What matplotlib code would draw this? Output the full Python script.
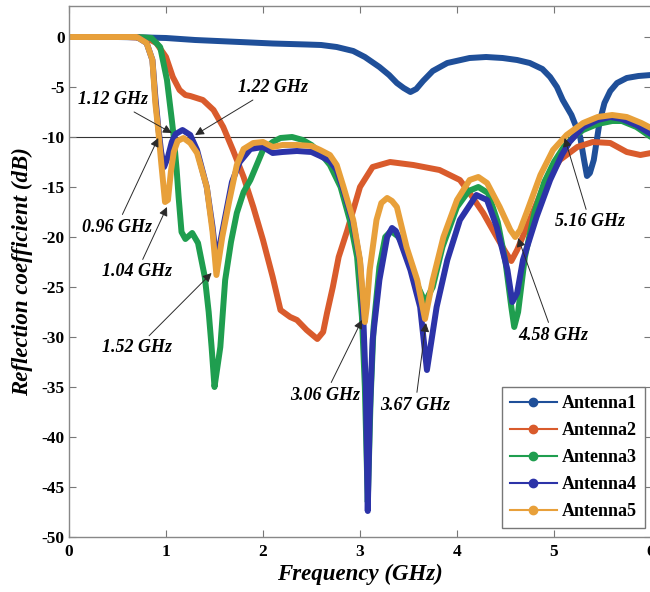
import matplotlib
matplotlib.use("Agg")
import matplotlib.pyplot as plt
from matplotlib.lines import Line2D

plt.rcParams['font.family'] = ['Liberation Serif', 'DejaVu Serif']
plt.rcParams['font.weight'] = 'bold'
plt.rcParams['axes.unicode_minus'] = False

labels = ["Antenna1", "Antenna2", "Antenna3", "Antenna4", "Antenna5"]
colors = ["#1f4f99", "#d95b2c", "#1f9e4f", "#2c33a8", "#e8a03a"]

f1 = [0, 0.5, 0.8, 1.0, 1.3, 1.76, 2.1, 2.45, 2.6, 2.76, 2.93, 3.05, 3.2, 3.3, 3.38, 3.45,
      3.52, 3.58, 3.65, 3.75, 3.9, 4.13, 4.3, 4.47, 4.62, 4.75, 4.88, 4.96, 5.03, 5.09, 5.18,
      5.27, 5.31, 5.34, 5.37, 5.41, 5.47, 5.52, 5.58, 5.65, 5.75, 5.87, 6.0]
s1 = [0, 0, -0.05, -0.1, -0.3, -0.5, -0.65, -0.75, -0.8, -1.0, -1.4, -2.0, -3.0, -3.8, -4.6, -5.1,
      -5.5, -5.2, -4.4, -3.4, -2.6, -2.1, -2.0, -2.1, -2.3, -2.6, -3.2, -4.0, -5.0, -6.3, -7.8,
      -10.0, -12.3, -13.9, -13.6, -12.3, -8.5, -6.6, -5.4, -4.6, -4.1, -3.9, -3.8]

f2 = [0, 0.6, 0.8, 0.9, 1.0, 1.07, 1.14, 1.2, 1.25, 1.38, 1.49, 1.59, 1.69, 1.8, 1.9, 2.0,
      2.1, 2.18, 2.28, 2.35, 2.45, 2.56, 2.62, 2.66, 2.72, 2.78, 2.87, 3.0, 3.13, 3.31, 3.55,
      3.82, 4.03, 4.13, 4.27, 4.41, 4.5, 4.56, 4.62, 4.72, 4.89, 5.06, 5.24, 5.4, 5.58, 5.75,
      5.89, 6.0]
s2 = [0, 0, -0.1, -0.6, -2.0, -4.0, -5.3, -5.8, -5.9, -6.3, -7.3, -9.0, -11.3, -14.0, -17.0, -20.3,
      -24.0, -27.3, -28.0, -28.3, -29.3, -30.2, -29.5, -27.6, -25.0, -22.0, -19.3, -15.0, -13.0, -12.5, -12.8,
      -13.3, -14.3, -15.6, -17.6, -20.0, -21.5, -22.4, -21.3, -19.0, -15.0, -12.3, -11.0, -10.5, -10.6, -11.5,
      -11.8, -11.6]

f3 = [0, 0.7, 0.85, 0.94, 1.01, 1.06, 1.08, 1.11, 1.13, 1.16, 1.2, 1.27, 1.33, 1.4, 1.44, 1.47,
      1.5, 1.53, 1.56, 1.61, 1.67, 1.73, 1.8, 1.87, 2.0, 2.1, 2.18, 2.3, 2.41, 2.5, 2.59, 2.69,
      2.8, 2.9, 2.97, 3.02, 3.05, 3.08, 3.11, 3.14, 3.2, 3.26, 3.32, 3.4, 3.5, 3.6, 3.67, 3.75,
      3.85, 4.0, 4.12, 4.22, 4.32, 4.42, 4.5, 4.56, 4.59, 4.63, 4.7, 4.8, 4.9, 5.0, 5.1, 5.2,
      5.3, 5.45, 5.6, 5.7, 5.85, 6.0]
s3 = [0, 0, -0.1, -1.0, -4.3, -8.3, -10.0, -13.3, -16.0, -19.5, -20.2, -19.6, -20.6, -24.0, -27.5, -31.0,
      -35.0, -33.0, -31.0, -24.3, -20.5, -17.6, -15.5, -14.3, -11.3, -10.5, -10.1, -10.0, -10.3, -10.8, -11.6, -12.8,
      -15.0, -18.5, -22.0, -28.0, -35.0, -46.5, -36.0, -29.0, -23.0, -20.0, -19.4, -20.0, -22.0, -25.0, -26.5, -25.0,
      -21.0, -17.0, -15.4, -15.0, -15.6, -18.5, -22.5, -27.0, -29.0, -27.5, -22.0, -17.5, -14.5, -12.5, -11.0, -10.0,
      -9.3, -8.7, -8.4, -8.4, -9.0, -10.0]

f4 = [0, 0.7, 0.8, 0.86, 0.89, 0.92, 0.95, 0.98, 1.02, 1.06, 1.1, 1.17, 1.25, 1.32, 1.42, 1.48,
      1.52, 1.56, 1.62, 1.68, 1.76, 1.87, 2.0, 2.1, 2.2, 2.35, 2.5, 2.59, 2.69, 2.76, 2.83, 2.93,
      3.0, 3.03, 3.06, 3.08, 3.1, 3.13, 3.2, 3.28, 3.33, 3.37, 3.41, 3.52, 3.62, 3.69, 3.79, 3.9,
      4.03, 4.2, 4.31, 4.41, 4.52, 4.57, 4.62, 4.68, 4.82, 4.96, 5.08, 5.16, 5.3, 5.45, 5.58, 5.7,
      5.85, 6.0]
s4 = [0, 0, -0.6, -2.3, -6.0, -9.0, -11.5, -13.0, -12.0, -10.5, -9.7, -9.3, -9.8, -11.3, -15.0, -19.0,
      -22.5, -20.5, -17.5, -14.5, -12.5, -11.2, -11.0, -11.6, -11.5, -11.4, -11.5, -11.9, -12.4, -13.3, -15.3, -18.6,
      -22.5, -27.0, -35.0, -47.4, -38.0, -30.3, -24.3, -20.0, -19.1, -19.4, -20.3, -23.3, -27.0, -33.3, -27.0, -22.3,
      -18.3, -15.8, -16.3, -19.0, -23.3, -26.5, -25.6, -22.3, -18.0, -14.3, -11.8, -10.5, -9.0, -8.3, -8.0, -8.2,
      -8.8, -9.7]

f5 = [0, 0.7, 0.8, 0.86, 0.89, 0.92, 0.95, 0.99, 1.02, 1.05, 1.08, 1.12, 1.18, 1.25, 1.32, 1.42,
      1.48, 1.52, 1.58, 1.65, 1.73, 1.8, 1.9, 2.0, 2.1, 2.2, 2.35, 2.5, 2.59, 2.69, 2.76, 2.83,
      2.93, 3.0, 3.03, 3.05, 3.07, 3.1, 3.17, 3.22, 3.28, 3.33, 3.38, 3.48, 3.59, 3.67, 3.75, 3.86,
      4.0, 4.13, 4.22, 4.31, 4.44, 4.55, 4.6, 4.65, 4.72, 4.86, 4.99, 5.13, 5.3, 5.45, 5.6, 5.75,
      5.9, 6.0]
s5 = [0, 0, -0.6, -2.3, -6.6, -9.3, -12.5, -16.5, -16.3, -13.5, -11.5, -10.4, -10.1, -10.6, -11.6, -15.0,
      -19.5, -23.8, -20.0, -16.5, -12.8, -11.2, -10.6, -10.5, -11.0, -10.8, -10.8, -10.9, -11.3, -11.8, -12.8, -15.0,
      -18.3, -22.3, -26.0, -28.5, -27.0, -23.3, -18.3, -16.6, -16.1, -16.4, -17.0, -21.0, -24.3, -28.2, -24.3, -20.0,
      -16.3, -14.3, -14.0, -14.6, -17.0, -19.3, -20.0, -19.3, -17.5, -13.8, -11.3, -9.8, -8.6, -8.0, -7.8, -8.0,
      -8.6, -9.1]

freqs = [f1, f2, f3, f4, f5]
s11s = [s1, s2, s3, s4, s5]

xticks = [0, 1, 2, 3, 4, 5, 6]
yticks = [-50, -45, -40, -35, -30, -25, -20, -15, -10, -5, 0]

# annotation: text, arrow tip (x, y), text centre (x, y)
notes = [
    ("1.12 GHz", (1.06, -9.6), (0.45, -6.3)),
    ("1.22 GHz", (1.30, -9.8), (2.10, -5.1)),
    ("0.96 GHz", (0.92, -10.1), (0.49, -19.0)),
    ("1.04 GHz", (1.01, -17.0), (0.70, -23.5)),
    ("1.52 GHz", (1.47, -23.6), (0.70, -31.1)),
    ("3.06 GHz", (3.02, -28.3), (2.64, -35.8)),
    ("3.67 GHz", (3.68, -28.6), (3.57, -36.8)),
    ("4.58 GHz", (4.63, -20.1), (4.99, -29.8)),
    ("5.16 GHz", (5.11, -10.1), (5.37, -18.5)),
]

fig = plt.figure(figsize=(6.5, 5.92), dpi=100)
ax = fig.add_axes([69 / 650, 55 / 592, 582 / 650, 531 / 592])

ax.axhline(-10, color="#333333", lw=0.8, zorder=1)

for f, s, c in zip(freqs, s11s, colors):
    ax.plot(f, s, color=c, lw=4.3, solid_joinstyle="round", solid_capstyle="round", zorder=2)

for txt, tip, pos in notes:
    ax.annotate(txt, xy=tip, xytext=pos, ha="center", va="center",
                fontsize=13, fontweight="bold", fontstyle="italic",
                arrowprops=dict(arrowstyle="-|>", color="#2a2a2a", lw=0.7,
                                mutation_scale=13, shrinkA=1, shrinkB=0),
                zorder=5)

ax.set_xlim(0, 6)
ax.set_ylim(-50, 3.1)
ax.set_xticks(xticks)
ax.set_yticks(yticks)
ax.tick_params(direction="in", top=True, right=True, length=5, width=0.8,
               labelsize=12.5, colors="#777777", labelcolor="black")
ax.tick_params(axis="x", pad=5)
ax.tick_params(axis="y", pad=3)
for sp in ax.spines.values():
    sp.set_color("#888888")
    sp.set_linewidth(1.0)

ax.set_xlabel("Frequency (GHz)", fontsize=16.5, fontweight="bold", fontstyle="italic", labelpad=3)
ax.set_ylabel("Reflection coefficient (dB)", fontsize=16.5, fontweight="bold", fontstyle="italic", labelpad=6)

handles = [Line2D([0], [0], color=c, lw=1.5, marker="o", markersize=6) for c in colors]
leg = ax.legend(handles, labels, loc="lower right", bbox_to_anchor=(0.99, 0.017),
                borderaxespad=0, fancybox=False, framealpha=1, edgecolor="#777777",
                fontsize=13, handlelength=2.6, handletextpad=0.3, labelspacing=0.55,
                borderpad=0.45)
leg.get_frame().set_linewidth(1.0)
leg.set_zorder(6)

fig.savefig("out.png", dpi=100)
